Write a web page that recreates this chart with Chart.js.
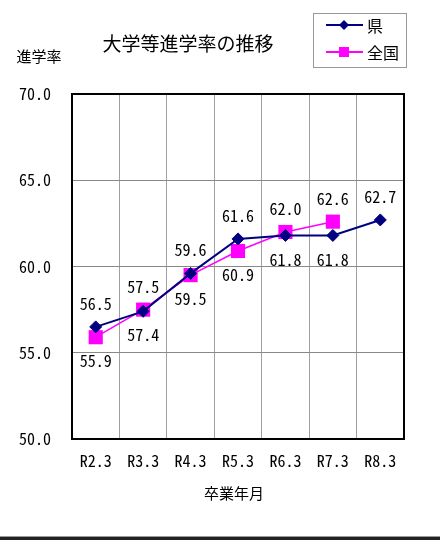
<!DOCTYPE html>
<html>
<head>
<meta charset="utf-8">
<script src="https://cdn.jsdelivr.net/npm/chart.js@4/dist/chart.umd.min.js"></script>
<style>
  html, body { margin: 0; padding: 0; background: #fff; }
  #wrap { position: relative; width: 440px; height: 540px; }
  #rule { position: absolute; left: 0; right: 0; top: 536px; height: 1px; background: #999; }
  #rule2 { position: absolute; left: 0; right: 0; top: 537px; height: 3px; background: #222; }
</style>
</head>
<body>
<div id="wrap">
  <canvas id="rateChart" width="440" height="540"></canvas>
  <div id="rule"></div>
  <div id="rule2"></div>
</div>
<script>
// 大学等進学率の推移 (県 / 全国)
const categories = ['R2.3', 'R3.3', 'R4.3', 'R5.3', 'R6.3', 'R7.3', 'R8.3'];
const prefValues = [56.5, 57.4, 59.6, 61.6, 61.8, 61.8, 62.7];
const nationValues = [55.9, 57.5, 59.5, 60.9, 62.0, 62.6, null];
const yTicks = [50, 55, 60, 65, 70];

const JP_FONT = '"Noto Sans CJK JP", "Noto Sans", sans-serif';
const NUM_FONT = '"Noto Sans Mono CJK JP", "DejaVu Sans Mono", "Liberation Mono", monospace';

// texts, frame, legend and value labels drawn on top of the chart
const decorPlugin = {
    id: 'decor',
    afterDraw(chart) {
        const ctx = chart.ctx;
        const area = chart.chartArea;
        ctx.save();

        // black frame round the plot area
        ctx.strokeStyle = '#000';
        ctx.lineWidth = 2;
        ctx.strokeRect(area.left, area.top, area.right - area.left, area.bottom - area.top);

        // titles
        ctx.fillStyle = '#000';
        ctx.textAlign = 'center';
        ctx.textBaseline = 'middle';
        ctx.font = '19px ' + JP_FONT;
        ctx.fillText('大学等進学率の推移', 188, 44);
        ctx.font = '15px ' + JP_FONT;
        ctx.fillText('進学率', 39, 56);
        ctx.fillText('卒業年月', 234, 493);

        // value labels: higher value above its point, lower one below
        const xs = chart.scales.x;
        const ys = chart.scales.y;
        ctx.font = '16px ' + NUM_FONT;
        const sets = chart.data.datasets;
        categories.forEach((c, i) => {
            const a = sets[0].data[i];
            const b = sets[1].data[i];
            const x = xs.getPixelForValue(i);
            sets.forEach((ds, k) => {
                const v = ds.data[i];
                if (v == null) return;
                const other = k === 0 ? b : a;
                const above = other == null || v >= other;
                const y = ys.getPixelForValue(v) + (above ? -23 : 24);
                ctx.fillText(v.toFixed(1), x, y);
            });
        });

        // legend box
        ctx.strokeStyle = '#999';
        ctx.lineWidth = 1;
        ctx.strokeRect(313.5, 13.5, 93, 54);
        const rows = [25, 52];
        sets.forEach((ds, k) => {
            const y = rows[k];
            ctx.strokeStyle = ds.borderColor;
            ctx.lineWidth = 2;
            ctx.beginPath();
            ctx.moveTo(326, y);
            ctx.lineTo(363, y);
            ctx.stroke();
            ctx.fillStyle = ds.backgroundColor;
            ctx.beginPath();
            if (ds.pointStyle === 'rectRot') {
                ctx.moveTo(344 - 5, y);
                ctx.lineTo(344, y - 5);
                ctx.lineTo(344 + 5, y);
                ctx.lineTo(344, y + 5);
                ctx.closePath();
            } else {
                ctx.rect(339, y - 5, 10, 10);
            }
            ctx.fill();
            ctx.fillStyle = '#000';
            ctx.textAlign = 'left';
            ctx.font = '16px ' + JP_FONT;
            ctx.fillText(ds.label, 367, y + 1);
        });

        ctx.restore();
    }
};

new Chart(document.getElementById('rateChart'), {
    type: 'line',
    data: {
        labels: categories,
        datasets: [{
            label: '県',
            data: prefValues,
            borderColor: '#000080',
            backgroundColor: '#000080',
            borderWidth: 2,
            pointStyle: 'rectRot',
            pointRadius: 6,
            pointBorderWidth: 1,
            tension: 0
        }, {
            label: '全国',
            data: nationValues,
            borderColor: '#ff00ff',
            backgroundColor: '#ff00ff',
            borderWidth: 1.5,
            pointStyle: 'rect',
            pointRadius: 10,
            pointBorderWidth: 0,
            spanGaps: false,
            tension: 0
        }]
    },
    options: {
        responsive: false,
        animation: false,
        devicePixelRatio: 1,
        layout: { padding: { top: 94, right: 36, bottom: 0, left: 0 } },
        plugins: {
            legend: { display: false },
            title: { display: false },
            tooltip: { enabled: false }
        },
        scales: {
            x: {
                offset: true,
                grid: { offset: true, color: '#a0a0a0', lineWidth: 1, drawTicks: false },
                border: { display: false },
                ticks: {
                    color: '#000',
                    padding: 12,
                    font: { family: NUM_FONT, size: 16 }
                },
                afterFit(scale) { scale.height = 101; }
            },
            y: {
                min: 50,
                max: 70,
                afterBuildTicks(scale) { scale.ticks = yTicks.map(v => ({ value: v })); },
                grid: { color: '#888', lineWidth: 1, drawTicks: false },
                border: { display: false },
                ticks: {
                    color: '#000',
                    padding: 21,
                    font: { family: NUM_FONT, size: 16 },
                    callback: v => v.toFixed(1)
                },
                afterFit(scale) { scale.width = 72; }
            }
        }
    },
    plugins: [decorPlugin]
});
</script>
</body>
</html>
